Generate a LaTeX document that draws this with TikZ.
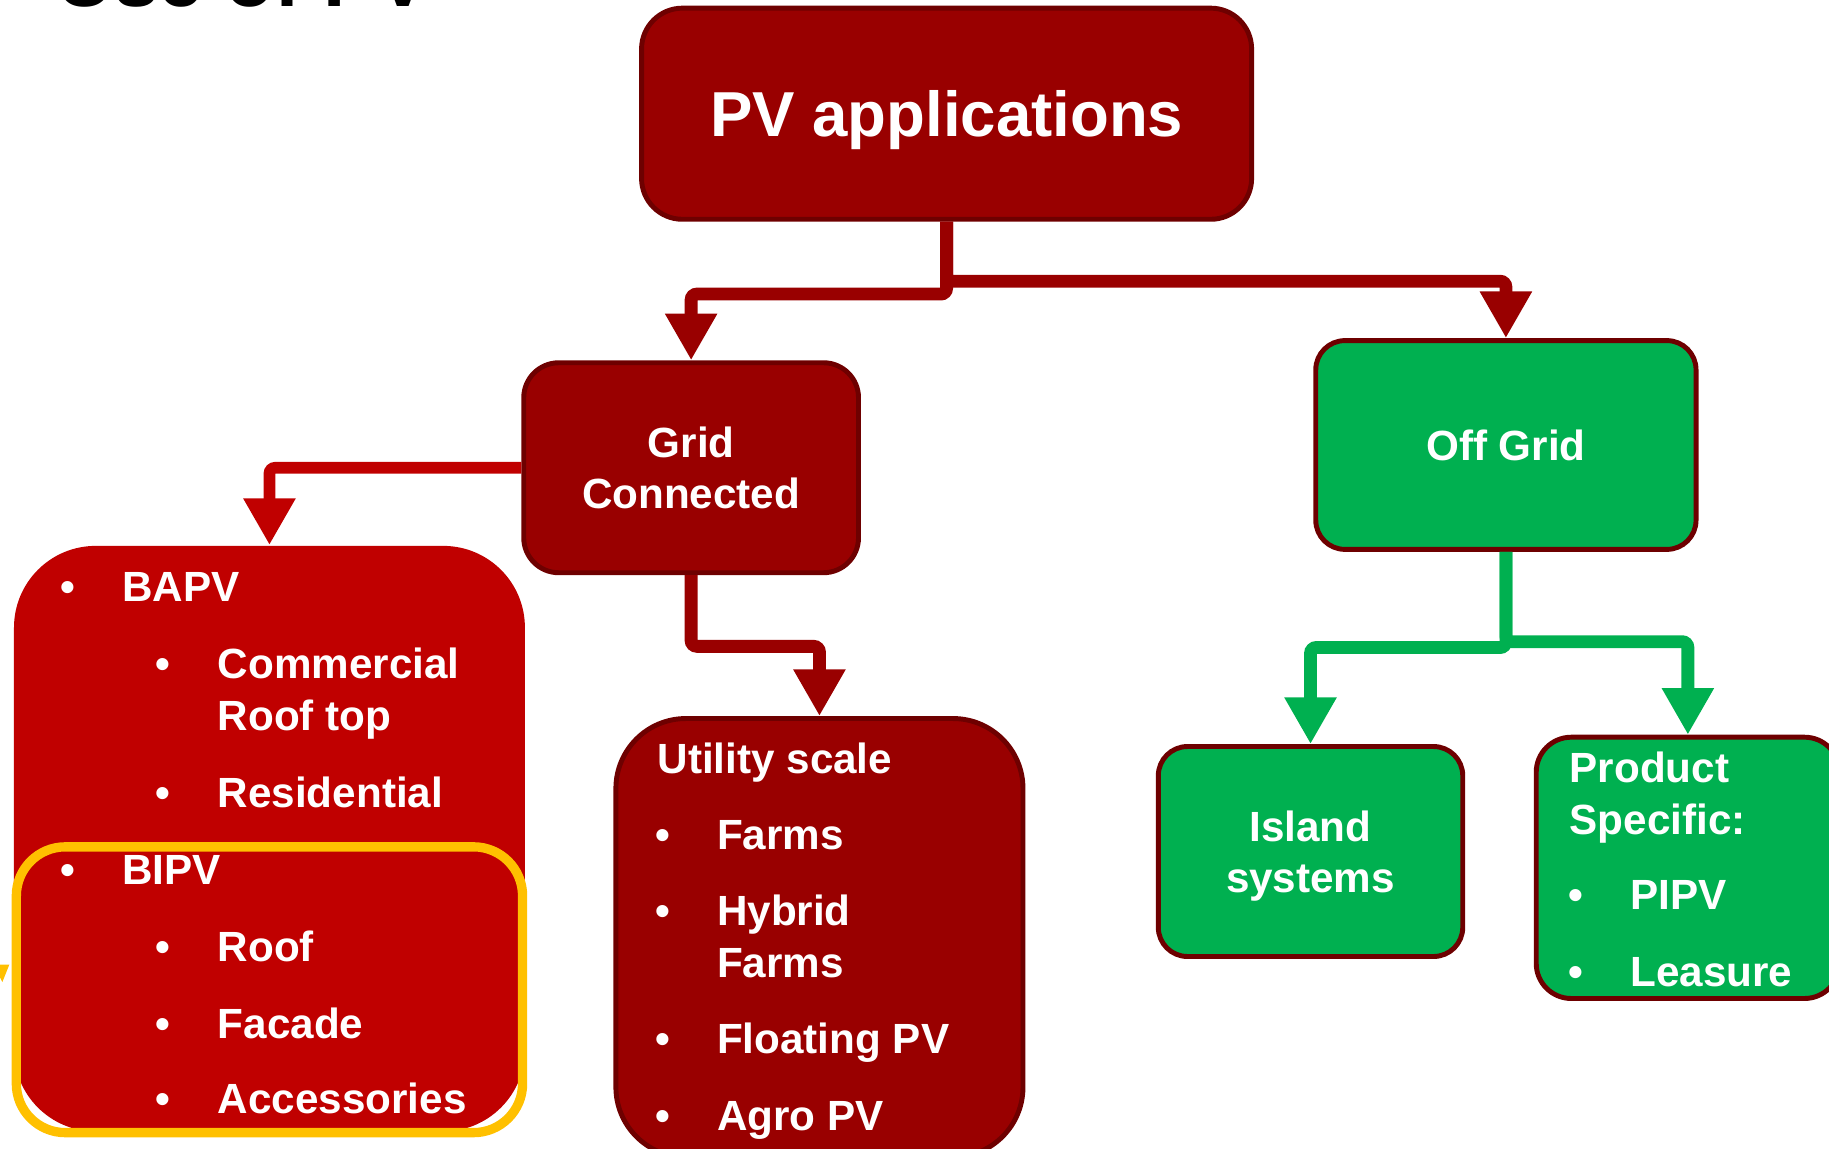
\documentclass[tikz,border=0pt]{standalone}
\usepackage{fontspec}
\setmainfont{Liberation Sans}
\usetikzlibrary{positioning,arrows.meta}

\definecolor{pvdark}{HTML}{990000}
\definecolor{pvedge}{HTML}{6E0000}
\definecolor{pvred}{HTML}{C00000}
\definecolor{pvgreen}{HTML}{00B050}
\definecolor{pvyellow}{HTML}{FFC000}

\begin{document}
\begin{tikzpicture}[
    box/.style={draw=pvedge, line width=1.2pt, rounded corners=0.3cm, align=center, inner sep=0pt,
      text=white, font=\bfseries\fontsize{10.3}{12.5}\selectfont},
    item/.style={anchor=base west, inner sep=0pt, text=white, font=\bfseries\fontsize{10.3}{12.5}\selectfont},
    dot/.style={anchor=base, inner sep=0pt, text=white, font=\bfseries\fontsize{10.3}{12.5}\selectfont},
    arr/.style={-{Triangle[width=0.42cm,length=0.40cm]}, line width=0.11cm, rounded corners=0.05cm, draw=pvdark}
]
\useasboundingbox (0,0) rectangle (15.68,-9.85);
\clip (0,0) rectangle (15.68,-9.85);

\node[anchor=base west, inner sep=0pt, font=\bfseries\fontsize{19.5}{20}\selectfont] (title) at (0.48,-0.06) {Use of PV};

% boxes
\node[box, fill=pvdark, minimum width=5.23cm, minimum height=1.81cm, rounded corners=0.35cm, text depth=0pt,
  font=\bfseries\fontsize{15.5}{18}\selectfont] (pvapp) at (8.115,-0.975) {PV applications};
\node[box, fill=pvdark, minimum width=2.87cm, minimum height=1.80cm] (grid) at (5.925,-4.01) {Grid\\Connected};
\node[box, fill=pvgreen, minimum width=3.26cm, minimum height=1.79cm, rounded corners=0.25cm] (offgrid) at (12.91,-3.815) {Off Grid};

\node[fill=pvred, minimum width=4.38cm, minimum height=5.02cm, inner sep=0pt, rounded corners=0.7cm] (bapv) at (2.31,-7.19) {};
\node[draw=pvyellow, line width=0.08cm, minimum width=4.34cm, minimum height=2.45cm, inner sep=0pt, rounded corners=0.42cm] (bipv) at (2.31,-8.485) {};
\node[box, fill=pvdark, minimum width=3.49cm, minimum height=3.76cm, rounded corners=0.6cm] (utility) at (7.025,-8.04) {};
\node[box, fill=pvgreen, minimum width=2.61cm, minimum height=1.80cm, rounded corners=0.25cm, text depth=0pt] (island) at (11.235,-7.30) {Island\\systems};
\node[box, fill=pvgreen, minimum width=2.60cm, minimum height=2.24cm] (product) at (14.47,-7.44) {};

\fill[pvyellow] (0,-8.27) -- (0.08,-8.27) -- (0.02,-8.42) -- (0,-8.38) -- cycle;

% list texts
\foreach \nm/\x/\y/\t in {bapvt/1.04/-5.16/BAPV, comm/1.86/-5.82/Commercial, rtop/1.86/-6.26/Roof top,
    resi/1.86/-6.92/Residential, bipvt/1.04/-7.58/BIPV, roof/1.86/-8.24/Roof, facade/1.86/-8.90/Facade,
    acc/1.86/-9.55/Accessories,
    util/5.63/-6.63/Utility scale, farms/6.14/-7.28/Farms, hyb/6.14/-7.93/Hybrid, hybf/6.14/-8.38/Farms,
    float/6.14/-9.03/Floating PV, agro/6.14/-9.69/Agro PV,
    prod/13.45/-6.71/Product, spec/13.45/-7.15/Specific:, pipv/13.97/-7.80/PIPV, leas/13.97/-8.46/Leasure}
  \node[item] (\nm) at (\x,\y) {\t};

\foreach \x/\y [count=\i] in {0.58/-5.16, 1.40/-5.82, 1.40/-6.92, 0.58/-7.58, 1.40/-8.24, 1.40/-8.90, 1.40/-9.55,
    5.68/-7.28, 5.68/-7.93, 5.68/-9.03, 5.68/-9.69, 13.51/-7.80, 13.51/-8.46}
  \node[dot] (dot\i) at (\x,\y) {\textbullet};

% connectors
\draw[arr] (pvapp.south) -- ++(0,-0.62) -| (grid.north);
\draw[arr] (pvapp.south) -- ++(0,-0.51) -| (offgrid.north);
\draw[arr, draw=pvred, line width=0.10cm] (grid.west) -| (bapv.north);
\draw[arr] (grid.south) -- ++(0,-0.61) -| (utility.north);
\draw[arr, draw=pvgreen] (offgrid.south) -- ++(0,-0.82) -| (island.north);
\draw[arr, draw=pvgreen] (offgrid.south) -- ++(0,-0.77) -| (product.north);
\end{tikzpicture}
\end{document}
